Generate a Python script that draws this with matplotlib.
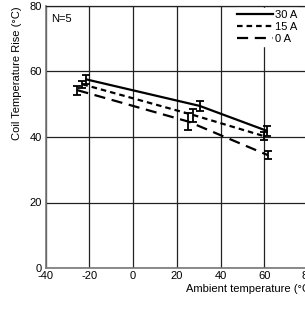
import matplotlib
matplotlib.use("Agg")
import matplotlib.pyplot as plt

plt.rcParams['font.family'] = ['Liberation Sans', 'DejaVu Sans']

# readings
t30 = [-21.5, 30.4, 61.1]
r30 = [57.6, 49.5, 41.9]
e30 = [1.3, 1.6, 1.5]

t15 = [-23.2, 27.6, 59.7]
r15 = [56.1, 46.7, 40.3]
e15 = [1.0, 2.0, 1.3]

t0 = [-25.5, 25.3, 61.5]
r0 = [54.3, 44.7, 34.5]
e0 = [1.4, 2.5, 1.3]

xticks = [-40, -20, 0, 20, 40, 60, 80]
yticks = [0, 20, 40, 60, 80]

W, H = 305, 309
fig = plt.figure(figsize=(W / 100, H / 100), dpi=100)
ax = fig.add_axes([45.7 / W, (H - 268) / H, (308 - 45.7) / W, (268 - 6) / H])

ax.set_xlim(-40, 80)
ax.set_ylim(0, 80)
ax.set_xticks(xticks)
ax.set_yticks(yticks)
ax.set_xticklabels([str(v) for v in xticks])
ax.tick_params(length=0, labelsize=8, pad=2)
ax.tick_params(axis='y', pad=3)
ax.grid(True, color='#222222', lw=0.9)
ax.set_axisbelow(True)
for s in ['top', 'right']:
    ax.spines[s].set_color('#222222')
    ax.spines[s].set_linewidth(0.9)
for s in ['left', 'bottom']:
    ax.spines[s].set_color('#777777')
    ax.spines[s].set_linewidth(1.2)

style15 = (0, (2.5, 1.8))
style0 = (0, (5, 3))

ax.errorbar(t30, r30, yerr=e30, color='black', lw=1.6, ls='-',
            capsize=3, elinewidth=1.3, capthick=1.3)
ax.errorbar(t15, r15, yerr=e15, color='black', lw=1.6, ls=style15,
            capsize=3, elinewidth=1.3, capthick=1.3)
ax.errorbar(t0, r0, yerr=e0, color='black', lw=1.6, ls=style0,
            capsize=3, elinewidth=1.3, capthick=1.3)

h = [plt.Line2D([], [], color='black', lw=1.6, ls='-'),
     plt.Line2D([], [], color='black', lw=1.6, ls=style15),
     plt.Line2D([], [], color='black', lw=1.6, ls=style0)]
leg = fig.legend(h, ['30 A', '15 A', '0 A'], loc='upper left',
                 bbox_to_anchor=(235 / W, 1 - 8 / H), frameon=True,
                 fontsize=8, handlelength=3.2, handletextpad=0.2,
                 labelspacing=0.15, borderpad=0.2, borderaxespad=0)
leg.get_frame().set_edgecolor('white')
leg.get_frame().set_facecolor('white')
leg.get_frame().set_alpha(1)

ax.text(-37.5, 76, 'N=5', fontsize=8, va='center', ha='left')

fig.text(17 / W, 1 - 6 / H, 'Coil Temperature Rise (\u00b0C)', rotation=90,
         fontsize=8, ha='center', va='top')
fig.text(186 / W, 1 - 289 / H, 'Ambient temperature (\u00b0C)', fontsize=8,
         ha='left', va='center')

fig.savefig('out.png', dpi=100)
